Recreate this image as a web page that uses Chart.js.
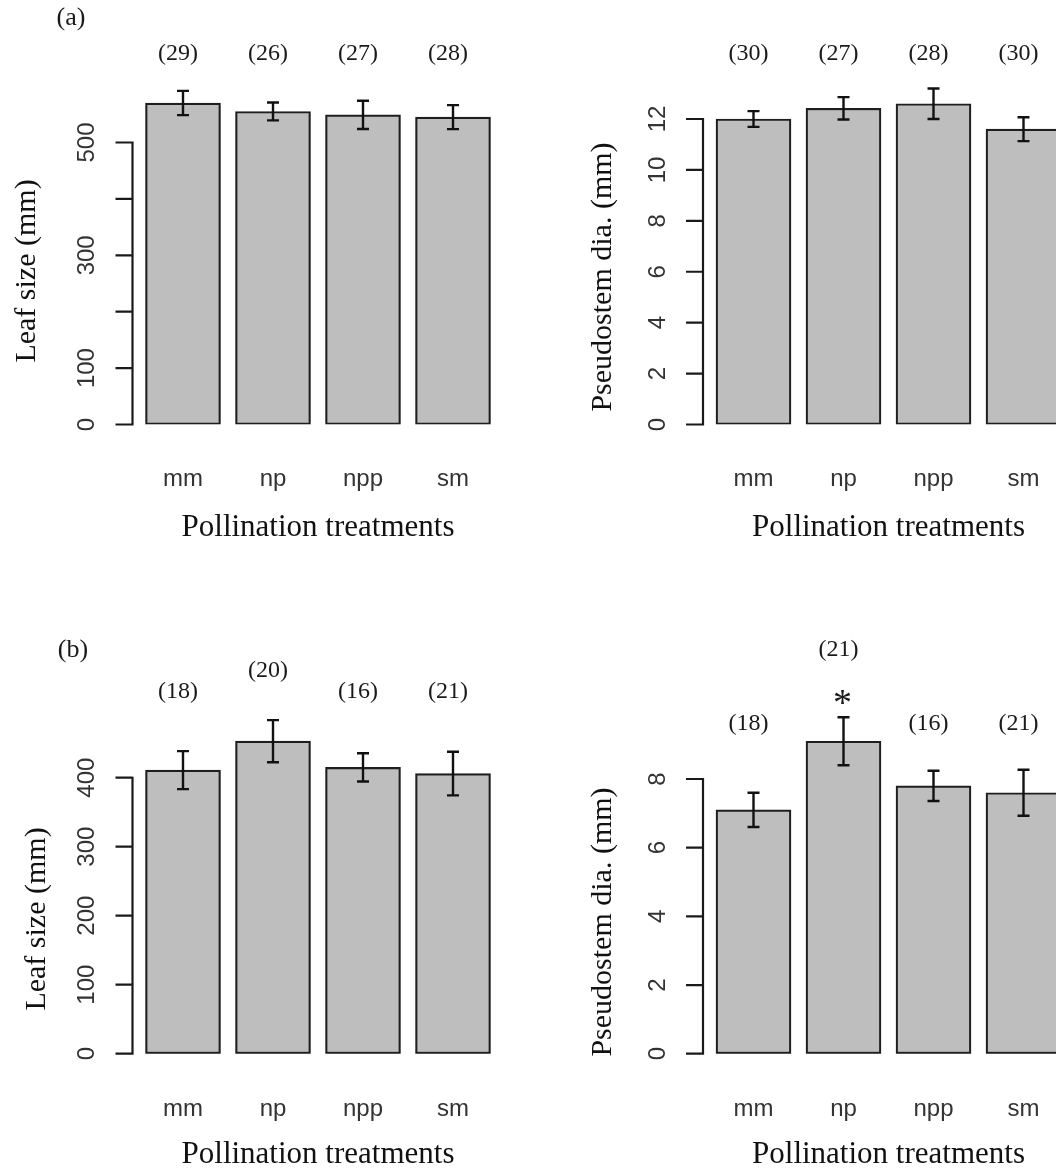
<!DOCTYPE html>
<html>
<head>
<meta charset="utf-8">
<title>Pollination treatments</title>
<script src="https://cdn.jsdelivr.net/npm/chart.js@4.4.1/dist/chart.umd.min.js"></script>
<style>
  html, body { margin: 0; padding: 0; background: #fff; overflow: hidden; width: 1056px; height: 1172px; }
  .panel { position: absolute; }
</style>
</head>
<body>
<div class="panel" style="left:0;top:0"><canvas id="leafA" width="528" height="586"></canvas></div>
<div class="panel" style="left:528px;top:0"><canvas id="stemA" width="560" height="586"></canvas></div>
<div class="panel" style="left:0;top:586px"><canvas id="leafB" width="528" height="586"></canvas></div>
<div class="panel" style="left:528px;top:586px"><canvas id="stemB" width="560" height="586"></canvas></div>
<script>
// categories
const treatments = ['mm', 'np', 'npp', 'sm'];

// (a) leaf size (mm): mean, standard error, sample size
const leafA = [570, 555, 549, 545];
const leafAErr = [21.5, 15.8, 25, 21.2];
const leafAN = [29, 26, 27, 28];
// (a) pseudostem diameter (mm)
const stemA = [12.0, 12.42, 12.6, 11.6];
const stemAErr = [0.31, 0.44, 0.6, 0.47];
const stemAN = [30, 27, 28, 30];
// (b) leaf size (mm)
const leafB = [411, 453, 415, 406];
const leafBErr = [27.5, 30.5, 20.5, 31.6];
const leafBN = [18, 20, 16, 21];
// (b) pseudostem diameter (mm)
const stemB = [7.1, 9.1, 7.8, 7.6];
const stemBErr = [0.5, 0.7, 0.44, 0.67];
const stemBN = [18, 21, 16, 21];

// y axis ticks and their labels (R drops the ones that would overlap)
const leafTicksA = [0, 100, 200, 300, 400, 500];
const leafTickLabelsA = ['0', '100', '', '300', '', '500'];
const stemTicksA = [0, 2, 4, 6, 8, 10, 12];
const stemTickLabelsA = ['0', '2', '4', '6', '8', '10', '12'];
const leafTicksB = [0, 100, 200, 300, 400];
const leafTickLabelsB = ['0', '100', '200', '300', '400'];
const stemTicksB = [0, 2, 4, 6, 8];
const stemTickLabelsB = ['0', '2', '4', '6', '8'];

const SANS = '"Liberation Sans", Arial, sans-serif';
const SERIF = '"Liberation Serif", "Times New Roman", serif';
const SLOT = 90;

// layout of each panel, in page pixels
const panels = [
  { id: 'leafA', left: 0, top: 0, values: leafA, err: leafAErr, n: leafAN,
    ticks: leafTicksA, tickLabels: leafTickLabelsA, yTitle: 'Leaf size (mm)', letter: '(a)',
    axisX: 132.5, firstCenter: 183, zeroY: 424.5, refTick: 500, refY: 142.5, chartTop: 60,
    yTitlePos: [27.5, 271], xTitleY: 536, catY: 479, countY: [54, 54, 54, 54], letterPos: [71, 18] },
  { id: 'stemA', left: 528, top: 0, values: stemA, err: stemAErr, n: stemAN,
    ticks: stemTicksA, tickLabels: stemTickLabelsA, yTitle: 'Pseudostem dia. (mm)',
    axisX: 703, firstCenter: 753.5, zeroY: 424.5, refTick: 12, refY: 119, chartTop: 60,
    yTitlePos: [603.5, 277], xTitleY: 536, catY: 479, countY: [54, 54, 54, 54] },
  { id: 'leafB', left: 0, top: 586, values: leafB, err: leafBErr, n: leafBN,
    ticks: leafTicksB, tickLabels: leafTickLabelsB, yTitle: 'Leaf size (mm)', letter: '(b)',
    axisX: 132.5, firstCenter: 183, zeroY: 1053.7, refTick: 400, refY: 777.7, chartTop: 676,
    yTitlePos: [37, 919], xTitleY: 1163, catY: 1109, countY: [692, 671, 692, 692], letterPos: [73, 650] },
  { id: 'stemB', left: 528, top: 586, values: stemB, err: stemBErr, n: stemBN,
    ticks: stemTicksB, tickLabels: stemTickLabelsB, yTitle: 'Pseudostem dia. (mm)',
    axisX: 703, firstCenter: 753.5, zeroY: 1053.7, refTick: 8, refY: 779, chartTop: 676,
    yTitlePos: [603.5, 922], xTitleY: 1163, catY: 1109, countY: [724, 650, 724, 724], star: 1, starY: 697 }
];

function textWidth(font, labels) {
  const ctx = document.createElement('canvas').getContext('2d');
  ctx.font = font;
  return Math.max(...labels.map(l => ctx.measureText(l).width));
}

// draws the R style pieces: axis line, error bars, counts and titles
function rStyle(p) {
  return {
    id: 'rStyle',
    afterDatasetsDraw(chart) {
      const ctx = chart.ctx, xs = chart.scales.x, ys = chart.scales.y;
      const ox = p.left, oy = p.top;
      const ax = p.axisX - ox;
      ctx.save();
      ctx.strokeStyle = '#1a1a1a';
      ctx.lineWidth = 2.2;
      ctx.beginPath();
      ctx.moveTo(ax, ys.getPixelForValue(p.ticks[0]) + 1);
      ctx.lineTo(ax, ys.getPixelForValue(p.ticks[p.ticks.length - 1]) - 1);
      p.ticks.forEach(v => {
        const py = ys.getPixelForValue(v);
        ctx.moveTo(ax - 17, py);
        ctx.lineTo(ax, py);
      });
      ctx.stroke();

      // error bars
      ctx.strokeStyle = '#111';
      ctx.lineWidth = 2.4;
      p.values.forEach((m, i) => {
        const cx = xs.getPixelForValue(i);
        const t = ys.getPixelForValue(m + p.err[i]);
        const b = ys.getPixelForValue(m - p.err[i]);
        ctx.beginPath();
        ctx.moveTo(cx, t); ctx.lineTo(cx, b);
        ctx.moveTo(cx - 6, t); ctx.lineTo(cx + 6, t);
        ctx.moveTo(cx - 6, b); ctx.lineTo(cx + 6, b);
        ctx.stroke();
      });

      // sample sizes
      ctx.fillStyle = '#1a1a1a';
      ctx.textAlign = 'center';
      ctx.textBaseline = 'middle';
      ctx.font = '24px ' + SERIF;
      p.n.forEach((n, i) => {
        ctx.fillText('(' + n + ')', xs.getPixelForValue(i) - 5, p.countY[i] - oy);
      });
      if (p.star !== undefined) {
        ctx.font = '38px ' + SERIF;
        ctx.fillText('*', xs.getPixelForValue(p.star) - 1, p.starY - oy + 8);
      }
      if (p.letter) {
        ctx.font = '26px ' + SERIF;
        ctx.fillText(p.letter, p.letterPos[0] - ox, p.letterPos[1] - oy);
      }

      // axis titles
      ctx.fillStyle = '#111';
      ctx.font = '31px ' + SERIF;
      ctx.textBaseline = 'alphabetic';
      const mid = (xs.getPixelForValue(0) + xs.getPixelForValue(treatments.length - 1)) / 2;
      ctx.fillText('Pollination treatments', mid, p.xTitleY - oy);

      ctx.translate(p.yTitlePos[0] - ox, p.yTitlePos[1] - oy);
      ctx.rotate(-Math.PI / 2);
      ctx.font = '30px ' + SERIF;
      ctx.textBaseline = 'middle';
      ctx.fillText(p.yTitle, 0, 0);
      ctx.restore();
    }
  };
}

panels.forEach(p => {
  const canvas = document.getElementById(p.id);
  const W = canvas.width, H = canvas.height;
  const chartLeft = p.firstCenter - SLOT / 2 - p.left;
  const chartRight = chartLeft + SLOT * treatments.length;
  const zero = p.zeroY - p.top;
  const top = p.chartTop - p.top;
  const yMax = p.refTick * (p.zeroY - p.chartTop) / (p.zeroY - p.refY);
  const tickFont = '24px ' + SANS;
  const widest = textWidth(tickFont, p.tickLabels);
  const axisW = 100, xAxisH = 100;

  new Chart(canvas, {
    type: 'bar',
    data: {
      labels: treatments,
      datasets: [{
        data: p.values,
        backgroundColor: '#bebebe',
        borderColor: '#1e1e1e',
        borderWidth: 2.2,
        borderSkipped: false,
        barThickness: 75
      }]
    },
    options: {
      responsive: false,
      animation: false,
      layout: {
        padding: { left: chartLeft - axisW, right: W - chartRight, top: top, bottom: H - zero - xAxisH }
      },
      plugins: { legend: { display: false }, tooltip: { enabled: false } },
      scales: {
        x: {
          type: 'category',
          offset: true,
          grid: { display: false, drawTicks: false },
          border: { display: false },
          ticks: {
            font: { family: SANS, size: 24 },
            color: '#333',
            padding: (p.catY - p.zeroY) - 24 * 1.2 / 2
          },
          afterFit: s => { s.height = xAxisH; }
        },
        y: {
          min: 0,
          max: yMax,
          grid: { display: false, drawTicks: false },
          border: { display: false },
          afterBuildTicks: s => { s.ticks = p.ticks.map(v => ({ value: v })); },
          ticks: {
            autoSkip: false,
            minRotation: 90,
            maxRotation: 90,
            crossAlign: 'center',
            padding: (chartLeft - (p.axisX - p.left)) + 45 - widest / 2,
            font: { family: SANS, size: 24 },
            color: '#333',
            callback: (v, i) => p.tickLabels[i]
          },
          afterFit: s => { s.width = axisW; }
        }
      }
    },
    plugins: [rStyle(p)]
  });
});
</script>
</body>
</html>
